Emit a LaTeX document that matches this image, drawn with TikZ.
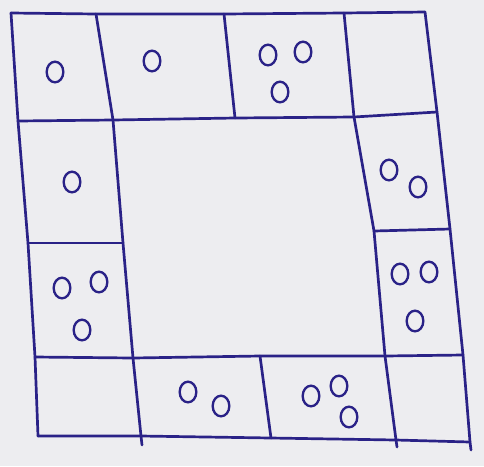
\documentclass[tikz,border=0pt]{standalone}
\usepackage{tikz}
\usetikzlibrary{positioning}
\definecolor{ink}{RGB}{42,34,135}
\definecolor{paper}{RGB}{237,237,240}

\begin{document}
\begin{tikzpicture}[x=0.03cm, y=-0.03cm, pen/.style={draw=ink, line width=2.3pt, line join=round, line cap=round}, dot/.style={draw=ink, line width=2pt}]
    \fill[paper] (0,0) rectangle (484,466);
    \useasboundingbox (0,0) rectangle (484,466);
    \coordinate (otl) at (11,13);
    \coordinate (otr) at (425,12);
    \coordinate (obr) at (470,442);
    \coordinate (obl) at (38,436);
    \coordinate (l1) at (18,121);
    \coordinate (l2) at (28,243);
    \coordinate (l3) at (35,357);
    \coordinate (r1) at (437,112);
    \coordinate (r2) at (450,229);
    \coordinate (r3) at (463,355);
    \coordinate (t1) at (96,14);
    \coordinate (t2) at (224,14);
    \coordinate (t3) at (344,13);
    \coordinate (b1) at (141,436);
    \coordinate (b2) at (271,438);
    \coordinate (b3) at (396,440);
    \coordinate (e1) at (142,445);
    \coordinate (e3) at (397,447);
    \coordinate (e4) at (471,450);
    \coordinate (itl) at (113,120);
    \coordinate (itr) at (354,117);
    \coordinate (ibr) at (385,356);
    \coordinate (ibl) at (133,358);
    \coordinate (tm) at (235,118);
    \coordinate (lm) at (123,243);
    \coordinate (rm) at (374,231);
    \coordinate (bm) at (260,356);
    \draw[pen] (otl) -- (t1) -- (t2) -- (t3) -- (otr);
    \draw[pen] (otr) -- (r1) -- (r2) -- (r3) -- (obr) -- (e4);
    \draw[pen] (obl) -- (b1) -- (b2) -- (b3) -- (obr);
    \draw[pen] (otl) -- (l1) -- (l2) -- (l3) -- (obl);
    \draw[pen] (l1) -- (itl) -- (tm) -- (itr) -- (r1);
    \draw[pen] (l3) -- (ibl) -- (bm) -- (ibr) -- (r3);
    \draw[pen] (t1) -- (itl) -- (lm) -- (ibl) -- (b1) -- (e1);
    \draw[pen] (t3) -- (itr) -- (rm) -- (ibr) -- (b3) -- (e3);
    \draw[pen] (t2) -- (tm);
    \draw[pen] (l2) -- (lm);
    \draw[pen] (rm) -- (r2);
    \draw[pen] (bm) -- (b2);
    \foreach \cx/\cy in {55/72, 152/61, 268/55, 303/52, 280/92, 72/182, 389/170, 418/187,
                         62/288, 99/282, 82/330, 400/274, 429/272, 415/321,
                         188/392, 221/406, 311/396, 339/386, 349/417}
        \draw[dot] (\cx,\cy) ellipse (0.25cm and 0.31cm);
\end{tikzpicture}
\end{document}
